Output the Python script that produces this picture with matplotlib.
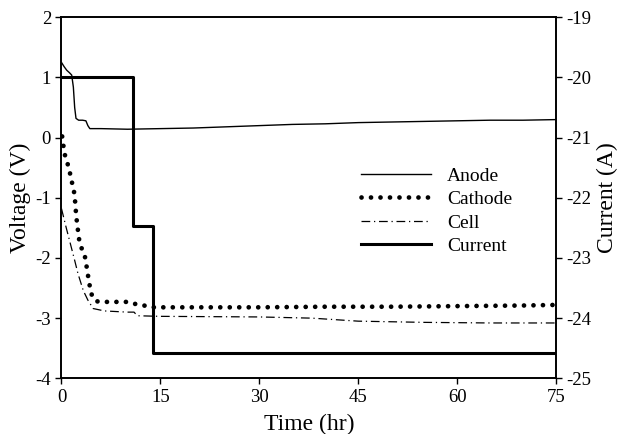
import matplotlib
matplotlib.use('Agg')
import matplotlib.pyplot as plt
from matplotlib import rcParams

rcParams['font.family'] = 'serif'
rcParams['font.serif'] = ['Liberation Serif', 'DejaVu Serif']
rcParams['font.size'] = 12
rcParams['axes.unicode_minus'] = False

# Anode potential (V)
anode_t = [0, 0.4, 0.8, 1.2, 1.55, 1.8, 2.0, 2.2, 2.6, 3.2, 3.7, 4.0, 4.3, 6, 10, 15,
           20, 25, 30, 35, 40, 45, 50, 55, 60, 65, 70, 75]
anode_v = [1.25, 1.18, 1.12, 1.08, 1.04, 0.84, 0.5, 0.32, 0.29, 0.29, 0.28, 0.2, 0.15,
           0.15, 0.14, 0.15, 0.16, 0.18, 0.20, 0.22, 0.23, 0.25, 0.26, 0.27, 0.28, 0.29,
           0.29, 0.30]

# Cathode potential (V)
cathode_t = [0.1, 0.27, 0.38, 0.79, 1.14, 1.39, 1.64, 1.9, 2.05, 2.15, 2.24, 2.4, 2.55,
             2.7, 3.06, 3.56, 3.82, 4.22, 4.67, 5.34, 6.1, 10, 11, 12, 14, 20, 30, 40,
             50, 60, 70, 75]
cathode_v = [0.02, -0.11, -0.24, -0.38, -0.52, -0.64, -0.77, -0.9, -1.04, -1.18, -1.32,
             -1.44, -1.6, -1.71, -1.84, -1.98, -2.15, -2.43, -2.65, -2.72, -2.73, -2.73,
             -2.76, -2.78, -2.82, -2.82, -2.82, -2.81, -2.81, -2.80, -2.79, -2.78]

# Cell voltage (V)
cell_t = [0, 0.7, 2.0, 2.5, 3.3, 4.0, 4.8, 6.5, 10, 11, 11.5, 15, 30, 38, 45, 55, 65, 75]
cell_v = [-1.18, -1.49, -2.04, -2.26, -2.54, -2.7, -2.84, -2.88, -2.90, -2.90, -2.96,
          -2.97, -2.98, -3.0, -3.05, -3.07, -3.08, -3.08]

# Applied current (A)
current_t = [0, 10.9, 13.9, 75]
current_a = [-20.0, -22.47, -24.58, -24.58]

fig = plt.figure(figsize=(6.23, 4.34), dpi=100)
ax = fig.add_axes([0.0987, 0.1283, 0.7938, 0.8318])
ax2 = ax.twinx()

l1, = ax.plot(anode_t, anode_v, '-', color='black', linewidth=1.0, label='Anode')
l2, = ax.plot(cathode_t, cathode_v, color='black', linewidth=3.4,
              linestyle=(0, (0.01, 2.0)), dash_capstyle='round', label='Cathode')
l3, = ax.plot(cell_t, cell_v, color='black', linewidth=0.9,
              linestyle=(0, (7, 3, 1, 3)), label='Cell')
l4, = ax2.plot(current_t, current_a, color='black', linewidth=2.2,
               drawstyle='steps-post', label='Current')

ax.set_xlim(0, 75)
ax.set_ylim(-4, 2)
ax2.set_ylim(-25, -19)
ax.set_xticks([0, 15, 30, 45, 60, 75])
ax.set_yticks([-4, -3, -2, -1, 0, 1, 2])
ax2.set_yticks([-25, -24, -23, -22, -21, -20, -19])

for a in (ax, ax2):
    for s in a.spines.values():
        s.set_linewidth(1.2)
    a.tick_params(direction='out', length=4, width=1.0, labelsize=13.5)

ax.set_xlabel('Time (hr)', fontsize=17, labelpad=6)
ax.set_ylabel('Voltage (V)', fontsize=17, labelpad=3)
ax2.set_ylabel('Current (A)', fontsize=17, labelpad=4)

ax.legend(handles=[l1, l2, l3, l4], loc='upper left', bbox_to_anchor=(0.605, 0.585),
          frameon=False, fontsize=14, handlelength=3.6, handletextpad=0.85,
          labelspacing=0.3, borderpad=0, borderaxespad=0)

fig.savefig('out.png', dpi=100)
